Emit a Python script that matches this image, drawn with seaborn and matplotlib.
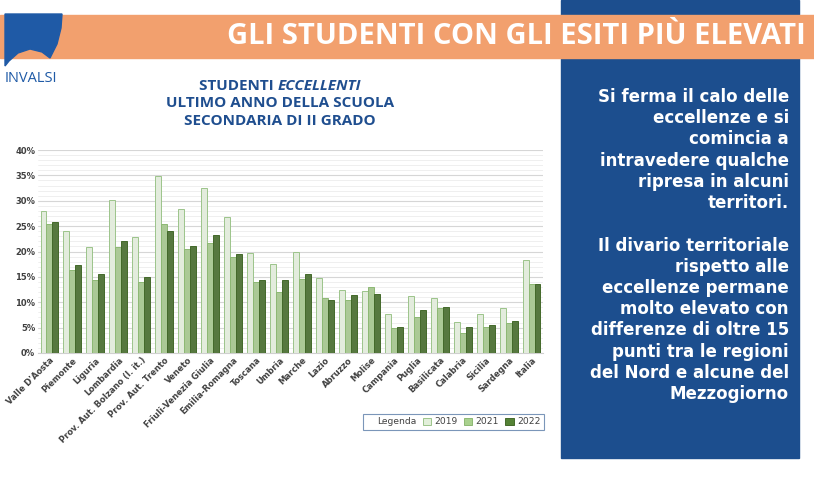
import pandas as pd
import seaborn as sns
import numpy as np
import matplotlib.pyplot as plt
from matplotlib.patches import Rectangle, Polygon
from matplotlib.ticker import MultipleLocator, FuncFormatter

# Regioni e percentuali di studenti eccellenti
regioni = ["Valle D'Aosta", "Piemonte", "Liguria", "Lombardia",
           "Prov. Aut. Bolzano (l. it.)", "Prov. Aut. Trento", "Veneto",
           "Friuli-Venezia Giulia", "Emilia-Romagna", "Toscana", "Umbria",
           "Marche", "Lazio", "Abruzzo", "Molise", "Campania", "Puglia",
           "Basilicata", "Calabria", "Sicilia", "Sardegna", "Italia"]
val_2019 = [28.0, 24.1, 20.8, 30.1, 22.8, 34.9, 28.4, 32.5, 26.7, 19.7, 17.6,
            19.9, 14.7, 12.4, 12.2, 7.7, 11.2, 10.9, 6.1, 7.6, 8.9, 18.3]
val_2021 = [25.5, 16.4, 14.3, 20.9, 13.9, 25.5, 20.5, 21.7, 18.9, 14.0, 12.0,
            14.5, 10.8, 10.5, 13.0, 4.9, 7.0, 8.8, 3.9, 5.2, 5.9, 13.5]
val_2022 = [25.9, 17.4, 15.5, 22.0, 14.9, 24.0, 21.0, 23.2, 19.5, 14.3, 14.3,
            15.5, 10.4, 11.4, 11.6, 5.2, 8.4, 9.0, 5.1, 5.5, 6.4, 13.5]
anni = ["2019", "2021", "2022"]

colori = {"2019": "#E2EFDA", "2021": "#A9D18E", "2022": "#548235"}
bordi = {"2019": "#9CC48A", "2021": "#8DB874", "2022": "#43692A"}

df = pd.DataFrame({
    "regione": regioni * 3,
    "anno": ["2019"] * len(regioni) + ["2021"] * len(regioni) + ["2022"] * len(regioni),
    "valore": val_2019 + val_2021 + val_2022,
})

blu = "#1C4E8E"
blu_titolo = "#1F4E8F"
arancio = "#F2A06E"

sns.set_style("white")
fig = plt.figure(figsize=(8.14, 4.84), dpi=100)

# riquadro blu a destra
fig.patches.append(Rectangle((561 / 814, 1 - 458 / 484), 238 / 814, 458 / 484,
                             transform=fig.transFigure, color=blu, zorder=0))
# banda arancione del titolo
fig.patches.append(Rectangle((0, 1 - 58 / 484), 1, 43 / 484,
                             transform=fig.transFigure, color=arancio, zorder=1))
fig.text(806 / 814, 1 - 37 / 484, "GLI STUDENTI CON GLI ESITI PIÙ ELEVATI",
         ha="right", va="center", color="white", fontsize=21, fontweight="bold",
         family=["Open Sans", "DejaVu Sans"], zorder=3)

# logo INVALSI
pts = np.array([[5, 14], [62, 14], [61, 28], [57, 44], [50, 58], [42, 52],
                [30, 49], [18, 53], [9, 61], [5, 66]])
fig.patches.append(Polygon(np.c_[pts[:, 0] / 814, 1 - pts[:, 1] / 484],
                           closed=True, transform=fig.transFigure,
                           color="#1F5AA6", zorder=2))
fig.text(5 / 814, 1 - 79 / 484, "INVALSI", ha="left", va="center",
         color="#1F5AA6", fontsize=10.5, family=["Open Sans", "DejaVu Sans"])

# titolo del grafico
tt = dict(color=blu_titolo, fontsize=11, fontweight="bold",
          family=["Open Sans", "DejaVu Sans"], va="center")
fig.canvas.draw()
r = fig.canvas.get_renderer()
t1 = fig.text(0, 1 - 86 / 484, "STUDENTI ", **tt)
t2 = fig.text(0, 1 - 86 / 484, "ECCELLENTI", style="italic", **tt)
w1 = t1.get_window_extent(r).width
w2 = t2.get_window_extent(r).width
x0 = 280 - (w1 + w2) / 2
t1.set_x(x0 / 814)
t2.set_x((x0 + w1) / 814)
fig.text(280 / 814, 1 - 103 / 484, "ULTIMO ANNO DELLA SCUOLA", ha="center", **tt)
fig.text(280 / 814, 1 - 121 / 484, "SECONDARIA DI II GRADO", ha="center", **tt)

# testo nel riquadro blu
testo = ("Si ferma il calo delle\neccellenze e si\ncomincia a\n"
         "intravedere qualche\nripresa in alcuni\nterritori.\n\n"
         "Il divario territoriale\nrispetto alle\neccellenze permane\n"
         "molto elevato con\ndifferenze di oltre 15\npunti tra le regioni\n"
         "del Nord e alcune del\nMezzogiorno")
fig.text(789 / 814, 1 - 88 / 484, testo, ha="right", va="top", color="white",
         fontsize=12, fontweight="bold", linespacing=1.23,
         family=["DejaVu Sans"])

# grafico a barre
ax = fig.add_axes([38 / 814, 1 - 353 / 484, 505 / 814, 203 / 484])
sns.barplot(data=df, x="regione", y="valore", hue="anno", hue_order=anni,
            palette=colori, width=0.78, ax=ax, legend=False, zorder=3)
for cont, anno in zip(ax.containers, anni):
    for bar in cont:
        bar.set_edgecolor(bordi[anno])
        bar.set_linewidth(0.7)

ax.set_ylim(0, 40)
ax.set_xlim(-0.5, len(regioni) - 0.5)
ax.yaxis.set_major_locator(MultipleLocator(5))
ax.yaxis.set_minor_locator(MultipleLocator(1))
ax.yaxis.set_major_formatter(FuncFormatter(lambda v, p: f"{v:.0f}%"))
ax.grid(axis="y", which="major", color="#D6D6D6", linewidth=0.8, zorder=0)
ax.grid(axis="y", which="minor", color="#EDEDED", linewidth=0.6, zorder=0)
ax.set_axisbelow(True)
for s in ["top", "right", "left"]:
    ax.spines[s].set_visible(False)
ax.spines["bottom"].set_color("#D0D0D0")
ax.set_xlabel("")
ax.set_ylabel("")
ax.tick_params(axis="both", length=0, pad=2)
ax.tick_params(axis="y", which="minor", length=0)
plt.setp(ax.get_yticklabels(), fontsize=6, fontweight="bold", color="#404040")
plt.setp(ax.get_xticklabels(), fontsize=6, fontweight="bold", color="#404040",
         rotation=45, ha="right", rotation_mode="anchor")

# legenda
vuoto = Rectangle((0, 0), 1, 1, fc="none", ec="none")
maniglie = [vuoto] + [Rectangle((0, 0), 1, 1, fc=colori[a], ec=bordi[a], lw=0.7)
                      for a in anni]
leg = fig.legend(maniglie, ["Legenda"] + anni, ncol=4, loc="center",
                 bbox_to_anchor=(453 / 814, 1 - 422 / 484), fontsize=6.6,
                 frameon=True, fancybox=False, handlelength=0.9,
                 handleheight=0.9, handletextpad=0.35, columnspacing=0.7,
                 borderpad=0.35)
leg.get_frame().set_edgecolor("#5A7CA8")
leg.get_frame().set_linewidth(0.8)
for t in leg.get_texts():
    t.set_color("#404040")

fig.savefig("out.png", dpi=100)
